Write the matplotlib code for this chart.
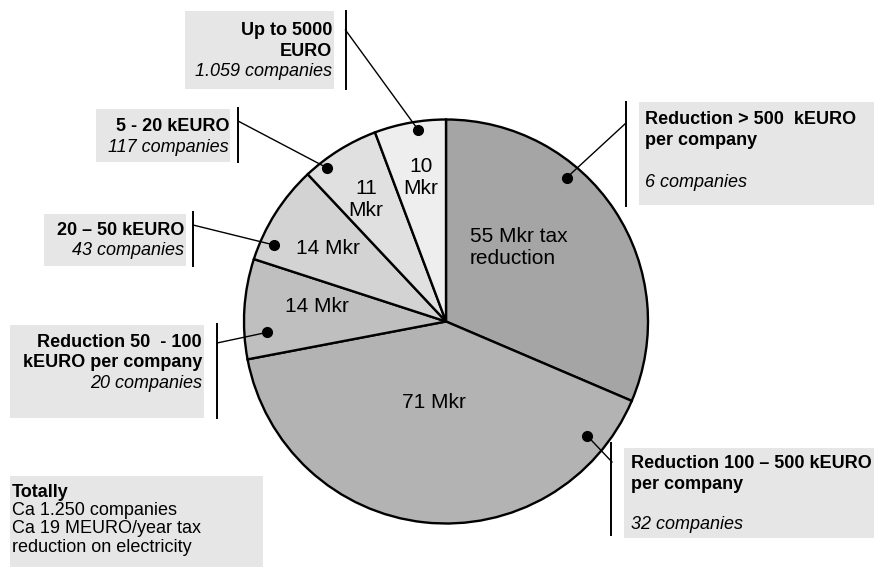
import numpy as np
import matplotlib
matplotlib.use('Agg')
import matplotlib.pyplot as plt
from matplotlib.patches import Rectangle

# ── Data ──────────────────────────────────────────────────────────────────────
values = [55, 71, 14, 14, 11, 10]          # Mkr tax reduction per band
value_labels = ['55 Mkr tax\nreduction', '71 Mkr', '14 Mkr', '14 Mkr',
                '11\nMkr', '10\nMkr']
band_titles = ['Reduction > 500  kEURO\nper company',
               'Reduction 100 \u2013 500 kEURO\nper company',
               'Reduction 50  - 100\nkEURO per company',
               '20 \u2013 50 kEURO',
               '5 - 20 kEURO',
               'Up to 5000\nEURO']
band_companies = ['6 companies', '32 companies', '20 companies',
                  '43 companies', '117 companies', '1.059 companies']
total_lines = ['Totally', 'Ca 1.250 companies', 'Ca 19 MEURO/year tax',
               'reduction on electricity']

# ── Style ─────────────────────────────────────────────────────────────────────
W, H = 874, 567
FONT = 'Liberation Sans'
BOX_COLOR = '#e6e6e6'
wedge_colors = ['#a5a5a5', '#b3b3b3', '#bfbfbf', '#d3d3d3', '#e0e0e0', '#eeeeee']
CX, CY, R = 446, 321.5, 202

def py(y):
    # screen-style y (top down) -> axes y
    return H - y

fig = plt.figure(figsize=(W / 100, H / 100), dpi=100)
ax = fig.add_axes([0, 0, 1, 1])

wedges, _ = ax.pie(values, colors=wedge_colors, startangle=90, counterclock=False,
                   center=(CX, py(CY)), radius=R,
                   wedgeprops=dict(edgecolor='black', linewidth=1.7))
ax.set_xlim(0, W)
ax.set_ylim(0, H)
ax.set_aspect('auto')
ax.set_axis_off()

# value labels inside the wedges (centre, alignment)
label_pos = [(470, 248, 'left'), (434, 403, 'center'), (317, 307, 'center'),
             (328, 249, 'center'), (366, 200, 'center'), (421, 178, 'center')]
for text, (x, y, ha) in zip(value_labels, label_pos):
    ax.text(x, py(y), text, ha=ha, va='center', fontsize=15, family=FONT,
            linespacing=1.2, multialignment=ha)

# ── Callouts: box, bracket, leader, dot ──────────────────────────────────────
# box (x0, y0, x1, y1), text anchor x, ha, baselines of title lines, baseline of count
boxes = [
    ((639, 102, 877, 205), 645, 'left', [124, 145], 187),
    ((624, 448, 874, 538), 631, 'left', [468, 489], 529),
    ((10, 325, 204, 418), 202, 'right', [347, 367], 388),
    ((44, 214, 186, 266), 184, 'right', [235], 255),
    ((96, 109, 230, 162), 229, 'right', [131], 152),
    ((185, 11, 334, 89), 332, 'right', [35, 56], 76),
]
brackets = [(626, 102, 206), (611, 443, 535), (217, 324, 418),
            (193, 212, 266), (238, 108, 162), (345.5, 11, 89)]
leader_start = [(626, 123), (612, 462), (217, 343), (193, 225), (238, 121), (345.5, 30)]
# dot position: angle inside the wedge (deg) and fraction of radius
dot_polar = [(50, 0.93), (-39, 0.90), (183.5, 0.89), (156, 0.93), (127.7, 0.96), (98.3, 0.96)]

for i in range(len(values)):
    (x0, y0, x1, y1), tx, ha, title_bl, count_bl = boxes[i]
    ax.add_patch(Rectangle((x0, py(y1)), x1 - x0, y1 - y0, facecolor=BOX_COLOR,
                           edgecolor='none', zorder=0))
    for line, bl in zip(band_titles[i].split('\n'), title_bl):
        ax.text(tx, py(bl), line, ha=ha, va='baseline', fontsize=13,
                fontweight='bold', family=FONT)
    ax.text(tx, py(count_bl), band_companies[i], ha=ha, va='baseline',
            fontsize=13, fontstyle='italic', family=FONT)

    bx, by0, by1 = brackets[i]
    ax.plot([bx, bx], [py(by0), py(by1)], color='black', lw=1.4, zorder=3)

    ang, frac = dot_polar[i]
    dx = CX + frac * R * np.cos(np.radians(ang))
    dy = py(CY) + frac * R * np.sin(np.radians(ang))
    sx, sy = leader_start[i]
    ax.plot([sx, dx], [py(sy), dy], color='black', lw=1.0, zorder=3)
    ax.plot(dx, dy, 'o', color='black', markersize=7, zorder=4)

# totals box
ax.add_patch(Rectangle((10, py(567)), 253, 91, facecolor=BOX_COLOR,
                       edgecolor='none', zorder=0))
for j, (line, bl) in enumerate(zip(total_lines, [497, 515, 533, 552])):
    ax.text(12, py(bl), line, ha='left', va='baseline', fontsize=13, family=FONT,
            fontweight='bold' if j == 0 else 'normal')

fig.savefig('out.png', dpi=100)
